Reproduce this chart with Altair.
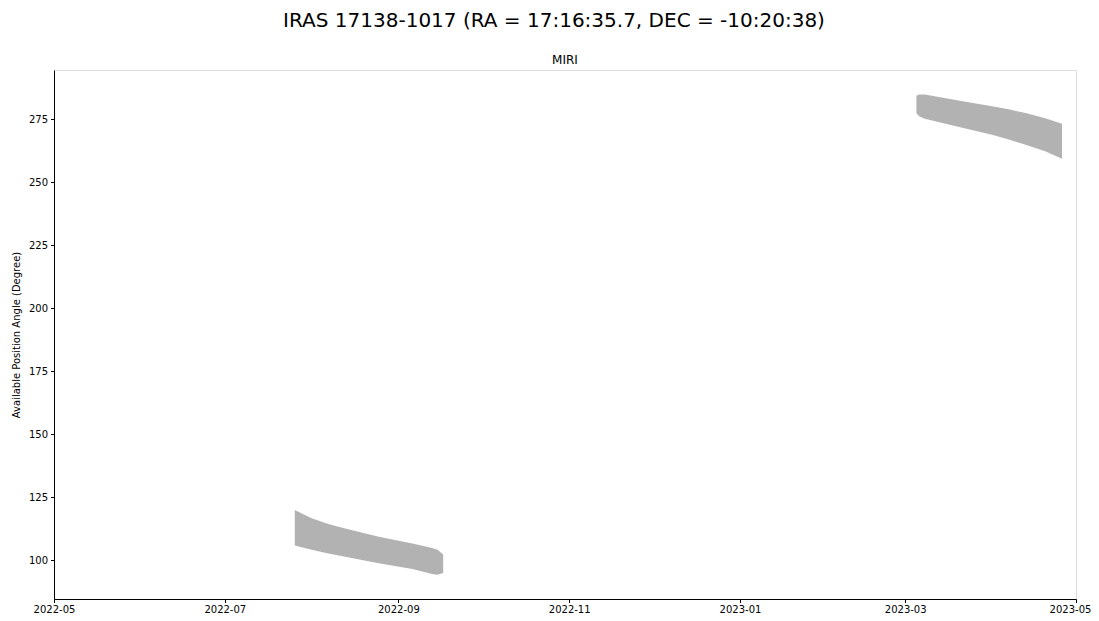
import altair as alt
import pandas as pd

# Window 1 (2022)
dates1 = ["2022-07-26", "2022-08-01", "2022-08-07", "2022-08-13", "2022-08-25", "2022-09-06", "2022-09-13", "2022-09-15", "2022-09-17"]
pa_min1 = [105.9, 104.2, 102.8, 101.5, 98.9, 96.6, 94.6, 94.3, 95.0]
pa_max1 = [120.0, 116.7, 114.5, 112.7, 109.4, 106.7, 104.9, 104.2, 102.4]

# Window 2 (2023)
dates2 = ["2023-03-05", "2023-03-06", "2023-03-08", "2023-03-21", "2023-04-01", "2023-04-07", "2023-04-13", "2023-04-20", "2023-04-26"]
pa_min2 = [277.4, 276.2, 275.3, 271.8, 268.9, 267.0, 264.9, 262.4, 259.4]
pa_max2 = [284.4, 284.9, 284.9, 282.3, 280.2, 279.0, 277.5, 275.5, 273.3]

x_ticks = ["2022-05-01", "2022-07-01", "2022-09-01", "2022-11-01", "2023-01-01", "2023-03-01", "2023-05-01"]
y_ticks = [100, 125, 150, 175, 200, 225, 250, 275]

rows = []
for d, lo, hi in zip(dates1, pa_min1, pa_max1):
    rows.append({"date": d, "lo": lo, "hi": hi, "seg": "a"})
for d, lo, hi in zip(dates2, pa_min2, pa_max2):
    rows.append({"date": d, "lo": lo, "hi": hi, "seg": "b"})
df = pd.DataFrame(rows)

def dt(s):
    y, m, d = map(int, s.split("-"))
    return alt.DateTime(year=y, month=m, date=d, utc=True)

font = "DejaVu Sans"

xscale = alt.Scale(type="utc", domain=[dt("2022-05-01"), dt("2023-05-01")], nice=False)
yscale = alt.Scale(domain=[84.7, 294.6], nice=False, zero=False)

# last tick label nudged left slightly so that it stays inside the page
last_label = {"condition": {"test": "datum.value >= 1682899000000", "value": -6}, "value": 0}

area = alt.Chart(df).mark_area(color="#b2b2b2", opacity=1, interpolate="linear").encode(
    x=alt.X("date:T", scale=xscale, title=None,
            axis=alt.Axis(values=[dt(s) for s in x_ticks], format="%Y-%m",
                          labelFontSize=10, labelFont=font, labelColor="black",
                          tickColor="black", tickSize=3.5, domainColor="black",
                          grid=False, labelPadding=1.5, labelOverlap=False, labelFlush=False,
                          labelOffset=last_label)),
    y=alt.Y("lo:Q", scale=yscale, title="Available Position Angle (Degree)",
            axis=alt.Axis(values=y_ticks, labelFontSize=10, labelFont=font, labelColor="black",
                          tickColor="black", tickSize=3.5, domainColor="black", grid=False,
                          titleFont=font, titleFontSize=10, titleFontWeight="normal",
                          titleColor="black", titlePadding=7, labelPadding=3)),
    y2="hi:Q",
    detail="seg:N",
)

sub = alt.Chart(pd.DataFrame({"t": ["MIRI"]})).mark_text(
    font=font, fontSize=12, color="black", baseline="bottom", align="center"
).encode(x=alt.value(511), y=alt.value(-3), text="t:N")

chart = alt.layer(area, sub).properties(
    width=1022, height=529,
    padding={"left": 46, "top": 62, "right": 15, "bottom": 14},
    autosize=alt.AutoSizeParams(type="none"),
    title=alt.TitleParams("IRAS 17138-1017 (RA = 17:16:35.7, DEC = -10:20:38)",
                          font=font, fontSize=20, fontWeight="normal", color="black",
                          anchor="middle", offset=23, dx=-11),
).configure_view(stroke="black", strokeWidth=1).configure(background="white")

chart.save("out.html", embed_options={"renderer": "svg", "actions": False})
